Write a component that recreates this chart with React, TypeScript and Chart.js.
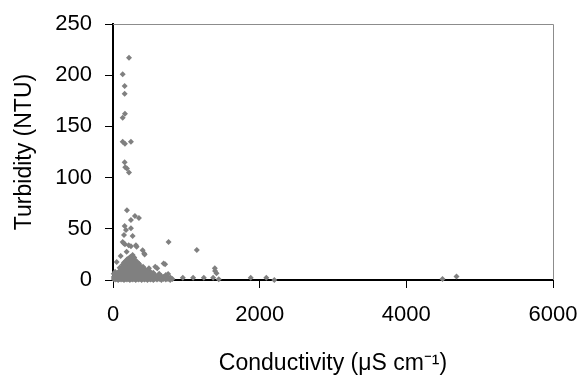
import React, { useEffect, useRef } from "react";
import { Chart, registerables } from "chart.js";

Chart.register(...registerables);

// Conductivity (µS cm-1) and turbidity (NTU)
const conductivity: number[] = [
  // high-turbidity events
  218, 132, 159, 159, 163, 132, 132, 163, 245, 159, 167, 190, 218,
  // mid range
  190, 299, 354, 245, 159, 245, 177, 150, 268, 132, 163, 214, 245, 322, 186, 404, 431, 758, 1143, 50, 105, 245,
  146, 313, 268, 426, 350, 576, 690,
  // low range and outliers
  711, 109, 490, 603, 752, 1388, 1392, 1411, 785, 952, 1093, 1238, 1365, 1442, 1878, 2091, 2200, 4493, 4684,
  // dense cluster
  10, 10, 10,
  30, 30, 30, 30,
  50, 50, 50,
  70, 70, 70, 70,
  90, 90, 90, 90, 90,
  110, 110, 110, 110,
  130, 130, 130, 130, 130, 130,
  150, 150, 150, 150, 150, 150, 150,
  170, 170, 170, 170, 170, 170, 170,
  190, 190, 190, 190, 190, 190, 190,
  210, 210, 210, 210, 210, 210, 210,
  230, 230, 230, 230, 230, 230, 230, 230,
  250, 250, 250, 250, 250, 250, 250,
  270, 270, 270, 270, 270, 270, 270,
  290, 290, 290, 290, 290, 290, 290,
  310, 310, 310, 310, 310, 310, 310,
  330, 330, 330, 330, 330, 330,
  350, 350, 350, 350, 350, 350,
  370, 370, 370, 370, 370, 370,
  390, 390, 390, 390, 390,
  410, 410, 410, 410, 410,
  430, 430, 430, 430, 430,
  450, 450, 450, 450,
  470, 470, 470, 470,
  490, 490, 490,
  510, 510, 510, 510,
  530, 530, 530,
  550, 550, 550, 550,
  570, 570, 570,
  600, 600, 600,
  630, 630, 630,
  660, 660, 660,
  690, 690,
  720, 720, 720,
  750, 750,
  780, 780,
  810,
];

const turbidity: number[] = [
  217, 201, 189.5, 182, 162.4, 158.5, 135, 133, 135, 115, 110, 109, 105,
  68, 62.5, 60.5, 58.6, 52.7, 50.5, 48.8, 44, 43, 37, 34.9, 34, 33, 32.5, 27.6, 29, 25, 37, 29.3, 17.6, 23.4, 22.8,
  35.8, 34, 24.4, 26, 16, 13, 16,
  15.3, 11.4, 11.4, 11.4, 5.9, 11.4, 8.8, 6.5, 2.3, 2.3, 2.3, 2.3, 2.3, 0.7, 2.3, 2.3, 0, 1, 3.5,
  1, 3, 6,
  0.5, 2, 4, 8,
  1, 3, 5,
  0, 2, 4, 7,
  1, 3, 6, 9, 12,
  0.5, 2, 5, 8,
  1, 3, 6, 9, 12, 15,
  0, 2, 4, 7, 10, 14, 17,
  1, 3, 5, 8, 11, 14, 18,
  0.5, 2, 6, 9, 12, 16, 20,
  1, 4, 7, 10, 13, 17, 21,
  0, 2, 5, 8, 11, 15, 19, 22,
  1, 3, 6, 9, 12, 16, 20,
  0.5, 4, 7, 10, 14, 18, 21,
  1, 3, 6, 9, 13, 17, 22,
  0, 2, 5, 8, 12, 15, 19,
  1, 4, 7, 10, 14, 17,
  0.5, 3, 6, 9, 12, 16,
  1, 2, 5, 8, 11, 14,
  0, 3, 6, 9, 12,
  1, 4, 7, 10, 13,
  0.5, 2, 5, 8, 11,
  1, 3, 6, 9,
  0, 2, 5, 8,
  1, 4, 7,
  0.5, 2, 5, 8,
  1, 3, 6,
  0, 2, 4, 7,
  1, 3, 5,
  0.5, 2, 4,
  1, 3, 6,
  0, 2, 4,
  1, 3,
  0.5, 2, 5,
  1, 3,
  0, 2,
  1,
];

const xTickValues: number[] = [0, 2000, 4000, 6000];
const yTickValues: number[] = [0, 50, 100, 150, 200, 250];

const xTitle = "Conductivity (\u03bcS cm\u207b\u00b9)";
const yTitle = "Turbidity (NTU)";

const frameBorder = {
  id: "frameBorder",
  afterDatasetsDraw(chart: any) {
    const { ctx, chartArea } = chart;
    ctx.save();
    ctx.strokeStyle = "#8c8c8c";
    ctx.lineWidth = 1;
    ctx.beginPath();
    ctx.moveTo(chartArea.left, Math.floor(chartArea.top) + 0.5);
    ctx.lineTo(Math.floor(chartArea.right) + 0.5, Math.floor(chartArea.top) + 0.5);
    ctx.lineTo(Math.floor(chartArea.right) + 0.5, chartArea.bottom);
    ctx.stroke();
    ctx.restore();
  },
};

export default function App() {
  const canvasRef = useRef<HTMLCanvasElement | null>(null);

  useEffect(() => {
    if (!canvasRef.current) return;
    const points = conductivity.map((c, i) => ({ x: c, y: turbidity[i] }));
    const font = "'Liberation Sans', Arial, sans-serif";
    const chart = new Chart(canvasRef.current, {
      type: "scatter",
      data: {
        datasets: [
          {
            data: points,
            pointStyle: "rectRot",
            pointRadius: 3,
            pointBorderWidth: 0,
            backgroundColor: "#808080",
            borderColor: "#808080",
            clip: false as any,
          },
        ],
      },
      plugins: [frameBorder],
      options: {
        animation: false,
        responsive: false,
        devicePixelRatio: 1,
        layout: { padding: { top: 24, right: 27, left: 0, bottom: 0 } },
        plugins: {
          legend: { display: false },
          tooltip: { enabled: false },
        },
        scales: {
          x: {
            type: "linear",
            min: 0,
            max: 6000,
            afterBuildTicks: (scale: any) => {
              scale.ticks = xTickValues.map((v) => ({ value: v }));
            },
            afterFit: (scale: any) => {
              scale.height = 98;
              scale.paddingLeft = 0;
              scale.paddingRight = 0;
            },
            ticks: {
              color: "#000",
              padding: 14,
              maxRotation: 0,
              font: { family: font, size: 22 },
              callback: (v: any) => String(v),
            },
            grid: {
              display: true,
              drawOnChartArea: false,
              drawTicks: true,
              tickLength: 8,
              color: "#000",
              lineWidth: 1,
            },
            border: { display: true, color: "#000", width: 2 },
            title: {
              display: true,
              text: xTitle,
              color: "#000",
              font: { family: font, size: 23 },
              padding: { top: 0, bottom: 1 },
            },
          },
          y: {
            type: "linear",
            min: 0,
            max: 250,
            afterBuildTicks: (scale: any) => {
              scale.ticks = yTickValues.map((v) => ({ value: v }));
            },
            afterFit: (scale: any) => {
              scale.width = 113;
              scale.paddingTop = 0;
              scale.paddingBottom = 0;
            },
            ticks: {
              color: "#000",
              padding: 13,
              font: { family: font, size: 22 },
              callback: (v: any) => String(v),
            },
            grid: {
              display: true,
              drawOnChartArea: false,
              drawTicks: true,
              tickLength: 8,
              color: "#000",
              lineWidth: 1,
            },
            border: { display: true, color: "#000", width: 2 },
            title: {
              display: true,
              text: yTitle,
              color: "#000",
              font: { family: font, size: 23 },
              padding: { top: 11, bottom: 0 },
            },
          },
        },
      },
    });
    return () => chart.destroy();
  }, []);

  return (
    <div style={{ position: "absolute", left: 0, top: 0, width: 580, height: 378, background: "#fff" }}>
      <canvas ref={canvasRef} width={580} height={378} />
    </div>
  );
}
